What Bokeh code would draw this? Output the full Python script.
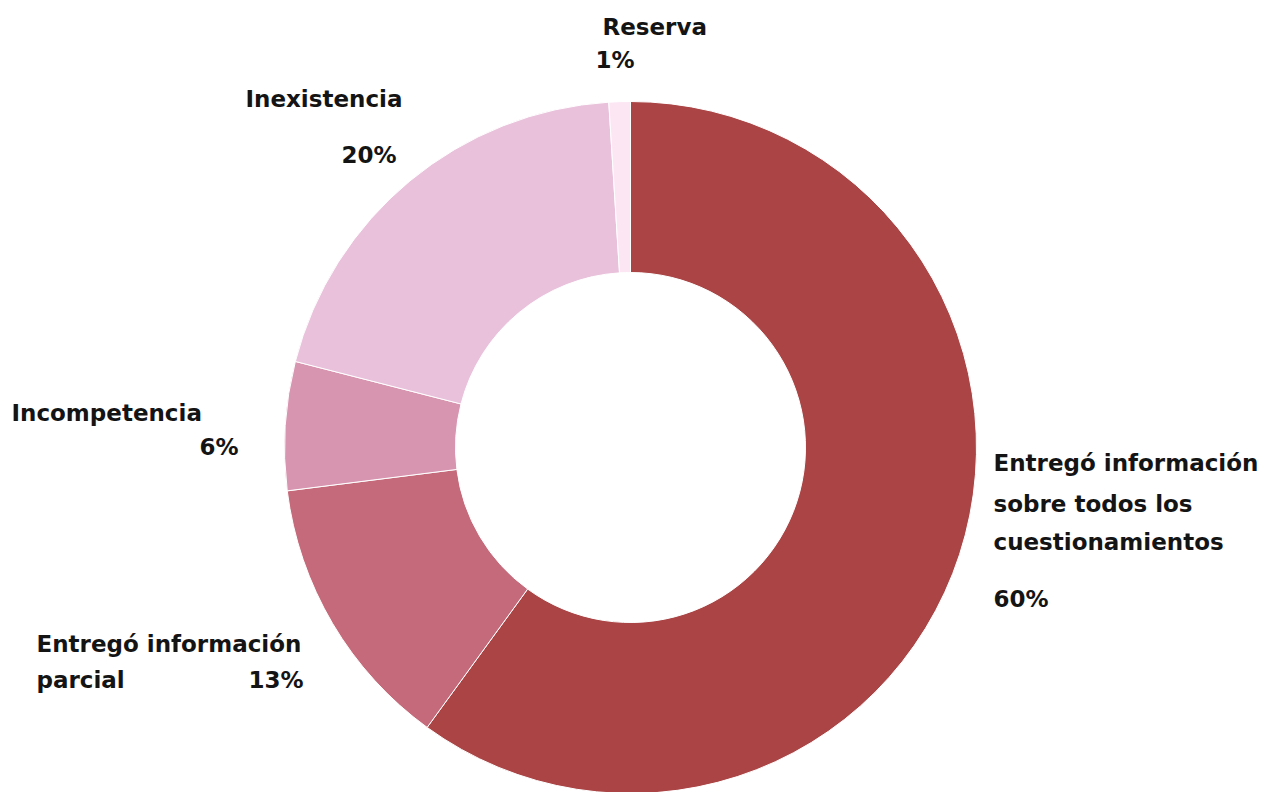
import math
from bokeh.plotting import figure
from bokeh.models import Range1d, ColumnDataSource
from bokeh.core.properties import value
from bokeh.embed import file_html
from bokeh.resources import INLINE

categories = ["Entregó información sobre todos los cuestionamientos",
              "Entregó información parcial", "Incompetencia", "Inexistencia", "Reserva"]
shares = [60, 13, 6, 20, 1]
colors = ["#AA4445", "#C56A7A", "#D895B0", "#E9C1DB", "#FCE6F4"]

W, H = 1267, 792
p = figure(width=W, height=H, output_backend="svg", toolbar_location=None,
           x_range=Range1d(0, W), y_range=Range1d(792 - H, 792),
           min_border=0, outline_line_color=None)
p.axis.visible = False
p.grid.visible = False
p.background_fill_color = "white"
p.border_fill_color = "white"

# data y = 792 - page y
cx, cy = 630, 792 - 447
total = sum(shares)
starts, ends = [], []
cum = 0
for s in shares:
    starts.append(math.pi / 2 - 2 * math.pi * cum / total)
    cum += s
    ends.append(math.pi / 2 - 2 * math.pi * cum / total)

src = ColumnDataSource(dict(start=starts, end=ends, color=colors,
                            x=[cx] * len(shares), y=[cy] * len(shares)))
p.annular_wedge(x="x", y="y", inner_radius=175, outer_radius=346,
                start_angle="start", end_angle="end", direction="clock",
                fill_color="color", line_color="white", line_width=1, source=src)

font = value("DejaVu Sans")
labels = [
    # text, x, page baseline y, align
    ("Reserva", 602, 35, "left"),
    ("1%", 595, 68, "left"),
    ("Inexistencia", 245, 107, "left"),
    ("20%", 396, 163, "right"),
    ("Incompetencia", 11, 421, "left"),
    ("6%", 238, 455, "right"),
    ("Entregó información", 36, 652, "left"),
    ("parcial", 36, 688, "left"),
    ("13%", 303, 688, "right"),
    ("Entregó información", 993, 471, "left"),
    ("sobre todos los", 993, 512, "left"),
    ("cuestionamientos", 993, 550, "left"),
    ("60%", 993, 607, "left"),
]
for t, x, yb, al in labels:
    p.text(x=[x], y=[792 - yb], text=[t], text_font=font, text_font_style="bold",
           text_font_size="23px", text_color="#141414", text_align=al,
           text_baseline="alphabetic", y_offset=-9)

open("out.html", "w").write(file_html(p, INLINE))
